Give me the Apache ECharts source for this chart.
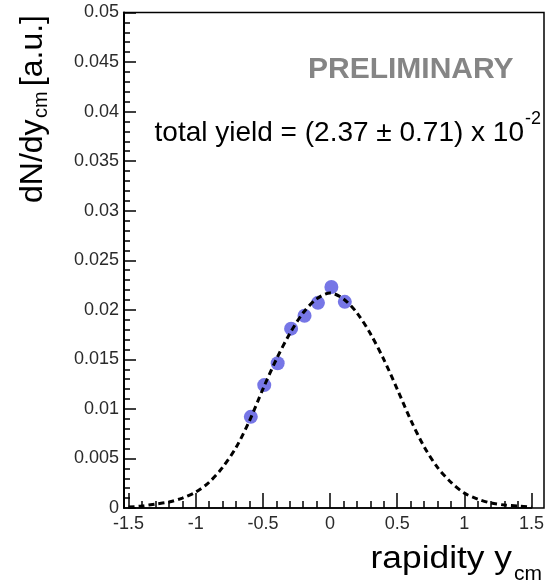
<!DOCTYPE html>
<html>
<head>
<meta charset="utf-8">
<script src="https://cdn.jsdelivr.net/npm/echarts@6/dist/echarts.min.js"></script>
<style>
  html, body { margin: 0; padding: 0; background: #ffffff; }
  #chart { width: 547px; height: 582px; }
</style>
</head>
<body>
<div id="chart"></div>
<script>
// Measured yield points: rapidity bin centre and dN/dy
const rapidity = [-0.59, -0.49, -0.39, -0.29, -0.19, -0.09, 0.01, 0.11];
const dNdy = [0.0092, 0.0124, 0.0146, 0.0181, 0.0194, 0.0207, 0.0223, 0.0208];

// Fitted source distribution (dashed curve)
const fitRapidity = [-1.5, -1.4, -1.3, -1.2, -1.1, -1.0, -0.9, -0.8, -0.7, -0.6, -0.5, -0.4, -0.3, -0.2, -0.1, 0.0,
                     0.1, 0.2, 0.3, 0.4, 0.5, 0.6, 0.7, 0.8, 0.9, 1.0, 1.1, 1.2, 1.3, 1.4, 1.5];
const fitValues = [0.0001, 0.0002, 0.0004, 0.0006, 0.0010, 0.0016, 0.0026, 0.0041, 0.0061, 0.0088, 0.0120, 0.0150, 0.0176, 0.0197, 0.0211, 0.0217,
                   0.0211, 0.0197, 0.0176, 0.0150, 0.0120, 0.0089, 0.0062, 0.0041, 0.0026, 0.0015, 0.0009, 0.0005, 0.0003, 0.0002, 0.0001];

// Axis ranges and tick steps
const xRange = [-1.5, 1.5];
const xStep = 0.5;
const yRange = [0, 0.05];
const yStep = 0.005;

const FONT = "'Liberation Sans', Arial, Helvetica, sans-serif";

const chart = echarts.init(document.getElementById('chart'), null, { renderer: 'canvas' });

const pointData = rapidity.map((x, i) => [x, dNdy[i]]);
const fitData = fitRapidity.map((x, i) => [x, fitValues[i]]);

chart.setOption({
  animation: false,
  backgroundColor: '#ffffff',
  grid: { left: 128.6, right: 10, top: 12.5, bottom: 74, containLabel: false },
  xAxis: {
    type: 'value',
    min: xRange[0], max: xRange[1], interval: xStep,
    axisLine: { show: true, onZero: false, lineStyle: { color: '#000', width: 1.5 } },
    axisTick: { show: true, inside: true, length: 15, lineStyle: { color: '#000', width: 1.5 } },
    minorTick: { show: true, splitNumber: 5, length: 7, lineStyle: { color: '#000', width: 1.5 } },
    splitLine: { show: false },
    axisLabel: { show: true, margin: 7, color: '#2a2a2a', fontSize: 18, fontFamily: FONT, showMinLabel: true, showMaxLabel: true }
  },
  yAxis: {
    type: 'value',
    min: yRange[0], max: yRange[1], interval: yStep,
    offset: 4.6,
    axisLine: { show: true, onZero: false, lineStyle: { color: '#000', width: 2 } },
    axisTick: { show: true, inside: true, length: 12, lineStyle: { color: '#000', width: 1.5 } },
    minorTick: { show: true, splitNumber: 5, length: 6, lineStyle: { color: '#000', width: 1.5 } },
    splitLine: { show: false },
    axisLabel: { show: true, margin: 5, color: '#2a2a2a', fontSize: 18, fontFamily: FONT, showMinLabel: true, showMaxLabel: true }
  },
  series: [
    {
      type: 'scatter',
      data: pointData,
      symbol: 'circle',
      symbolSize: 14,
      itemStyle: { color: '#5454e0' },
      z: 2
    },
    {
      type: 'line',
      data: fitData,
      smooth: 0.3,
      showSymbol: false,
      symbol: 'none',
      lineStyle: { color: '#000', width: 3, type: [6, 4] },
      z: 3
    }
  ],
  graphic: [
    // frame around the plotting area
    {
      type: 'rect', z: 1, silent: true,
      shape: { x: 124, y: 12.5, width: 420, height: 495.5 },
      style: { fill: 'none', stroke: '#000', lineWidth: 1.5 }
    },
    {
      type: 'text', z: 10, silent: true,
      x: 308, y: 70,
      style: { text: 'PRELIMINARY', font: 'bold 30px ' + FONT, fill: '#858585', align: 'left', verticalAlign: 'middle' }
    },
    {
      type: 'text', z: 10, silent: true,
      x: 524, y: 133,
      style: { text: 'total yield = (2.37 \u00b1 0.71) x 10', font: '28px ' + FONT, fill: '#000', align: 'right', verticalAlign: 'middle' }
    },
    {
      type: 'text', z: 10, silent: true,
      x: 525, y: 119,
      style: { text: '-2', font: '18px ' + FONT, fill: '#000', align: 'left', verticalAlign: 'middle' }
    },
    // x-axis title
    {
      type: 'text', z: 10, silent: true,
      x: 512, y: 559.6, scaleX: 1.14,
      style: { text: 'rapidity y', font: '31px ' + FONT, fill: '#000', align: 'right', verticalAlign: 'middle' }
    },
    {
      type: 'text', z: 10, silent: true,
      x: 514, y: 574.4,
      style: { text: 'cm', font: '21px ' + FONT, fill: '#000', align: 'left', verticalAlign: 'middle' }
    },
    // y-axis title, read bottom to top
    {
      type: 'text', z: 10, silent: true,
      x: 33, y: 203, rotation: Math.PI / 2,
      style: { text: 'dN/dy', font: '32px ' + FONT, fill: '#000', align: 'left', verticalAlign: 'middle' }
    },
    {
      type: 'text', z: 10, silent: true,
      x: 41, y: 118, rotation: Math.PI / 2,
      style: { text: 'cm', font: '20px ' + FONT, fill: '#000', align: 'left', verticalAlign: 'middle' }
    },
    {
      type: 'text', z: 10, silent: true,
      x: 33, y: 15, rotation: Math.PI / 2,
      style: { text: '[a.u.]', font: '32px ' + FONT, fill: '#000', align: 'right', verticalAlign: 'middle' }
    }
  ]
});
</script>
</body>
</html>
